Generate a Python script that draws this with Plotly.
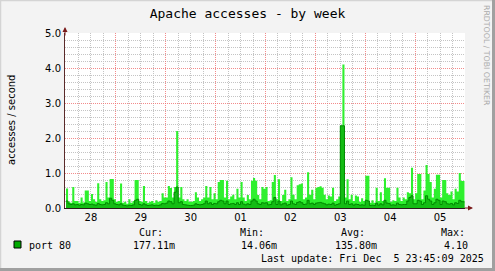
import pandas as pd
import plotly.graph_objects as go

# ---------------- data ----------------
start_time = "2025-11-28 00:00"
end_time = "2025-12-05 23:45"
day_ticks = ["28", "29", "30", "01", "02", "03", "04", "05"]

max_values = [
    0.56, 0.18, 0.15, 0.60, 0.20, 0.20, 0.15, 0.30, 0.16, 0.50, 0.50, 0.20, 0.40, 0.25, 0.18, 0.71, 0.25, 0.20, 0.22, 0.74, 0.30, 0.83, 0.83, 0.25,
    0.18, 0.20, 0.70, 0.15, 0.18, 0.12, 0.25, 0.15, 0.20, 0.80, 0.80, 0.20, 0.18, 0.63, 0.20, 0.15, 0.18, 0.20, 0.15, 0.22, 0.18, 0.20, 0.42, 0.30,
    0.30, 0.63, 0.57, 0.30, 0.60, 2.20, 0.30, 0.60, 0.25, 0.20, 0.25, 0.18, 0.18, 0.20, 0.45, 0.30, 0.20, 0.25, 0.30, 0.63, 0.30, 0.60, 0.25, 0.42,
    0.25, 0.74, 0.80, 0.80, 0.30, 0.78, 0.25, 0.33, 0.38, 0.25, 0.55, 0.30, 0.74, 0.30, 0.20, 0.37, 0.25, 0.78, 0.86, 0.78, 0.37, 0.25, 0.60, 0.55,
    0.60, 0.20, 0.22, 0.74, 0.94, 0.25, 0.82, 0.20, 0.37, 0.52, 0.20, 0.25, 0.88, 0.38, 0.25, 0.65, 0.68, 0.70, 0.25, 0.30, 1.02, 0.38, 0.52, 0.25,
    0.58, 0.60, 0.62, 0.58, 0.38, 0.25, 0.36, 0.33, 0.58, 0.20, 0.25, 0.33, 2.35, 4.10, 0.30, 0.82, 0.25, 0.38, 0.20, 0.36, 0.33, 0.18, 0.28, 0.20,
    0.92, 0.92, 0.15, 0.22, 0.15, 0.58, 0.20, 0.45, 0.20, 0.85, 0.58, 0.58, 0.18, 0.22, 0.20, 0.58, 0.30, 0.20, 0.30, 0.25, 0.45, 0.42, 1.15, 0.25,
    0.42, 0.97, 0.97, 0.25, 0.50, 1.23, 0.97, 0.74, 0.30, 0.55, 0.95, 0.95, 0.30, 0.80, 0.80, 0.42, 0.37, 0.47, 0.25, 0.55, 0.47, 1.00, 0.77, 0.77,
]

avg_values = [
    0.20, 0.12, 0.10, 0.12, 0.09, 0.10, 0.08, 0.10, 0.09, 0.14, 0.12, 0.10, 0.11, 0.09, 0.08, 0.13, 0.10, 0.09, 0.10, 0.15, 0.12, 0.28, 0.22, 0.12,
    0.10, 0.09, 0.12, 0.08, 0.07, 0.06, 0.08, 0.07, 0.09, 0.22, 0.25, 0.10, 0.08, 0.12, 0.09, 0.07, 0.08, 0.09, 0.07, 0.08, 0.07, 0.09, 0.13, 0.12,
    0.14, 0.20, 0.18, 0.12, 0.45, 0.60, 0.15, 0.18, 0.10, 0.09, 0.08, 0.07, 0.07, 0.08, 0.12, 0.10, 0.09, 0.10, 0.12, 0.20, 0.12, 0.15, 0.10, 0.13,
    0.12, 0.18, 0.22, 0.20, 0.12, 0.20, 0.10, 0.12, 0.13, 0.10, 0.15, 0.10, 0.18, 0.11, 0.09, 0.12, 0.10, 0.20, 0.25, 0.20, 0.12, 0.10, 0.15, 0.14,
    0.15, 0.09, 0.10, 0.18, 0.30, 0.10, 0.20, 0.09, 0.12, 0.14, 0.08, 0.10, 0.20, 0.12, 0.10, 0.16, 0.18, 0.15, 0.10, 0.11, 0.22, 0.12, 0.14, 0.10,
    0.14, 0.15, 0.16, 0.14, 0.12, 0.09, 0.11, 0.10, 0.14, 0.08, 0.10, 0.12, 2.35, 2.35, 0.12, 0.20, 0.10, 0.12, 0.08, 0.11, 0.10, 0.08, 0.09, 0.08,
    0.22, 0.20, 0.07, 0.08, 0.07, 0.14, 0.08, 0.12, 0.09, 0.22, 0.14, 0.13, 0.08, 0.09, 0.08, 0.14, 0.10, 0.09, 0.10, 0.10, 0.20, 0.30, 0.35, 0.12,
    0.12, 0.22, 0.20, 0.10, 0.15, 0.35, 0.25, 0.20, 0.10, 0.15, 0.25, 0.22, 0.10, 0.20, 0.18, 0.12, 0.11, 0.13, 0.09, 0.15, 0.13, 0.22, 0.18, 0.177,
]

legend_label = "port 80"
stat_names = ["Cur:", "Min:", "Avg:", "Max:"]
stat_values = ["177.11m", "14.06m", "135.80m", "4.10"]
last_update = "Last update: Fri Dec\u00a0\u00a05 23:45:09 2025"
title_text = "Apache accesses - by week"
y_title = "accesses / second"
watermark = "RRDTOOL / TOBI OETIKER"

# ---------------- layout helpers ----------------
W, H = 495, 271
L, R, T, B = 65, 30, 33, 63
PW, PH = W - L - R, H - T - B


def px(x):
    return (x - L) / PW


def py(y):
    return (H - B - y) / PH


times = list(pd.date_range(start_time, periods=len(max_values), freq="h")) + [pd.Timestamp(end_time)]
max_series = max_values + [max_values[-1]]
avg_series = avg_values + [avg_values[-1]]

fig = go.Figure()
fig.add_trace(go.Scatter(
    x=times, y=max_series, mode="lines", line=dict(shape="hv", width=0, color="#2EF02E"),
    fill="tozeroy", fillcolor="#2EF02E", hoverinfo="skip", showlegend=False))
fig.add_trace(go.Scatter(
    x=times, y=avg_series, mode="lines", line=dict(shape="hv", width=1, color="#008A00"),
    fill="tozeroy", fillcolor="#14BC14", hoverinfo="skip", showlegend=False))

MONO = "DejaVu Sans Mono"
SANS = "DejaVu Sans"


def label(x, y, text, size=10, family=MONO, color="#000", xanchor="center", angle=0):
    return dict(x=px(x), y=py(y), xref="paper", yref="paper", text=text, textangle=angle,
                xanchor=xanchor, yanchor="middle", showarrow=False,
                font=dict(family=family, size=size, color=color))


annotations = [
    label(11, 120, y_title, family=SANS, angle=-90),
    label(486, 55, watermark, size=7.8, family=SANS, color="#ABABAB", angle=90),
    dict(x=0, y=1, xref="paper", yref="paper", text="", showarrow=True, ax=0, ay=10,
         yshift=6, arrowhead=2, arrowsize=1, arrowwidth=1, arrowcolor="#7A1A1A"),
    dict(x=1, y=0, xref="paper", yref="paper", text="", showarrow=True, ax=-10, ay=0,
         xshift=8, arrowhead=2, arrowsize=1, arrowwidth=1, arrowcolor="#7A1A1A"),
    label(27, 245, legend_label, xanchor="left"),
    label(259, 258, last_update, xanchor="left"),
]
name_centers = [151, 252, 353, 453]
value_centers = [154, 259, 356, 456]
for name, cx in zip(stat_names, name_centers):
    annotations.append(label(cx, 232, name))
for val, cx in zip(stat_values, value_centers):
    annotations.append(label(cx, 245, val))

shapes = [
    # legend square
    dict(type="rect", xref="paper", yref="paper", x0=px(14), x1=px(21), y0=py(248), y1=py(241),
         fillcolor="#00AA00", line=dict(color="#000", width=1)),
    # frame
    dict(type="line", xref="paper", yref="paper", x0=px(0.5), x1=px(0.5), y0=py(0), y1=py(271),
         line=dict(color="#D4D4D4", width=1.5)),
    dict(type="line", xref="paper", yref="paper", x0=px(0), x1=px(495), y0=py(0.5), y1=py(0.5),
         line=dict(color="#D4D4D4", width=1.5)),
    dict(type="line", xref="paper", yref="paper", x0=px(493.5), x1=px(493.5), y0=py(0), y1=py(271),
         line=dict(color="#A0A0A0", width=3)),
    dict(type="line", xref="paper", yref="paper", x0=px(0), x1=px(495), y0=py(269.5), y1=py(269.5),
         line=dict(color="#A0A0A0", width=3)),
]

DOTS = "1px,1px"

fig.update_layout(
    width=W, height=H,
    margin=dict(l=L, r=R, t=T, b=B, pad=0),
    paper_bgcolor="#F3F3F3",
    plot_bgcolor="#FFFFFF",
    title=dict(text=title_text, x=0.5, xref="container", xanchor="center",
               y=1 - 13 / H, yref="container", yanchor="middle",
               font=dict(family=MONO, size=13, color="#000")),
    xaxis=dict(
        type="date", range=["2025-11-27 23:31", "2025-12-06 00:00"],
        tick0="2025-11-28", dtick=86400000, tickformat="%d", ticklabelmode="period",
        showgrid=True, gridcolor="rgba(240,110,110,0.8)", griddash=DOTS, gridwidth=1,
        minor=dict(tick0="2025-11-28", dtick=6 * 3600000, showgrid=True, gridcolor="#C4C4C4",
                   griddash=DOTS, gridwidth=1),
        showline=True, linecolor="#2A1A1A", linewidth=1, ticks="", zeroline=False,
        tickfont=dict(family=SANS, size=10, color="#000"), fixedrange=True,
    ),
    yaxis=dict(
        range=[0, 5], dtick=1, tick0=0, tickformat=".1f",
        showgrid=True, gridcolor="rgba(240,110,110,0.8)", griddash=DOTS, gridwidth=1,
        minor=dict(dtick=0.2, showgrid=True, gridcolor="#C4C4C4", griddash=DOTS, gridwidth=1),
        showline=True, linecolor="#5A2A2A", linewidth=1, ticks="", zeroline=False,
        ticklabelstandoff=1,
        tickfont=dict(family=SANS, size=10, color="#000"), fixedrange=True,
    ),
    annotations=annotations,
    shapes=shapes,
    showlegend=False,
)

fig.write_html("out.html", config=dict(displayModeBar=False))
